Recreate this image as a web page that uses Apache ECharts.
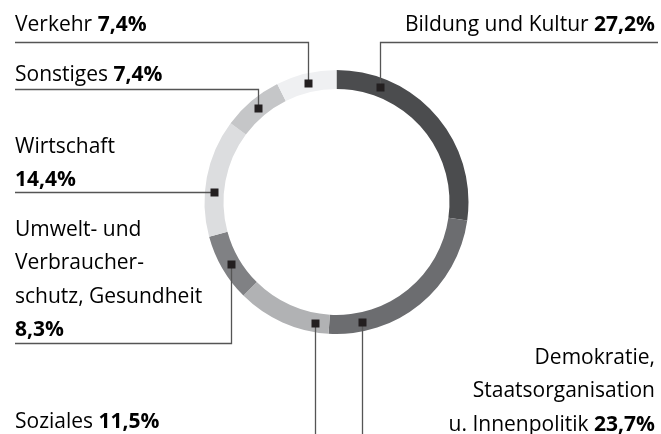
<!DOCTYPE html>
<html>
<head>
<meta charset="utf-8">
<script src="https://cdn.jsdelivr.net/npm/echarts@6/dist/echarts.min.js"></script>
<style>
  html, body { margin: 0; padding: 0; background: #fff; }
  #chart { width: 661px; height: 434px; }
</style>
</head>
<body>
<div id="chart"></div>
<script>
  // Anteile nach Themenbereich (im Uhrzeigersinn ab 12 Uhr)
  const categories = ['Bildung und Kultur', 'Demokratie, Staatsorganisation u. Innenpolitik', 'Soziales',
    'Umwelt- und Verbraucherschutz, Gesundheit', 'Wirtschaft', 'Sonstiges', 'Verkehr'];
  const shares = [27.2, 23.7, 11.5, 8.3, 14.4, 7.4, 7.4];

  // Beschriftung: Zeilen (letzte Zeile bekommt den Wert fett angehängt)
  const labelLines = [
    ['Bildung und Kultur '],
    ['Demokratie,', 'Staatsorganisation', 'u. Innenpolitik '],
    ['Soziales '],
    ['Umwelt- und', 'Verbraucher-', 'schutz, Gesundheit', ''],
    ['Wirtschaft', ''],
    ['Sonstiges '],
    ['Verkehr ']
  ];
  const colors = ['#4b4c4e', '#6c6d70', '#b1b2b4', '#808184', '#dcdddf', '#c5c6c8', '#eff0f2'];

  // Lage der Marker im Segment (0 = Anfang, 1 = Ende) und Führung der Linien
  const markerAt = [0.21, 0.82, 0.16, 0.5, 0.38, 0.5, 0.5];
  const leaderY = [42, 434, 434, 343, null, 89, 42];
  const leaderX = [658, null, null, 15, 15, 15, 15];
  const textX = [655, 655, 15, 15, 15, 15, 15];
  const textAlign = ['right', 'right', 'left', 'left', 'left', 'left', 'left'];
  const textTop = [25, 358, 422, 230, 147, 75, 25];

  const cx = 336.5, cy = 202, r0 = 113, r1 = 132;
  const lineH = 33.5;
  const fmt = v => v.toFixed(1).replace('.', ',') + '%';

  const chart = echarts.init(document.getElementById('chart'));
  const total = shares.reduce((a, b) => a + b, 0);

  const graphics = [];
  let cum = 0;
  shares.forEach((v, i) => {
    const theta = (cum + markerAt[i] * v) / total * 2 * Math.PI;
    cum += v;
    const rm = (r0 + r1) / 2;
    const mx = Math.round(cx + rm * Math.sin(theta)) + 0.5;
    const my = Math.round(cy - rm * Math.cos(theta)) + 0.5;

    let pts;
    if (leaderY[i] === null) pts = [[mx, my], [leaderX[i], my]];
    else if (leaderX[i] === null) pts = [[mx, my], [mx, leaderY[i]]];
    else pts = [[mx, my], [mx, leaderY[i] + 0.5], [leaderX[i], leaderY[i] + 0.5]];

    graphics.push({
      type: 'polyline', z: 10,
      shape: { points: pts },
      style: { stroke: '#555', lineWidth: 1.3, fill: null }
    });
    graphics.push({
      type: 'rect', z: 11,
      shape: { x: mx - 4, y: my - 4, width: 8, height: 8 },
      style: { fill: '#231f20' }
    });

    const lines = labelLines[i].slice();
    const last = lines.length - 1;
    const rows = lines.map((t, k) => k === last
      ? (t ? '{n|' + t + '}' : '') + '{b|' + fmt(v) + '}'
      : '{n|' + t + '}');
    graphics.push({
      type: 'text', z: 12,
      x: textX[i], y: textTop[i] - lineH / 2,
      style: {
        text: rows.join('\n'),
        align: textAlign[i],
        verticalAlign: 'top',
        rich: {
          n: { fontFamily: 'Open Sans', fontSize: 21, color: '#231f20', lineHeight: lineH },
          b: { fontFamily: 'Open Sans', fontSize: 21, fontWeight: 'bold', color: '#231f20', lineHeight: lineH }
        }
      }
    });
  });

  chart.setOption({
    animation: false,
    series: [{
      type: 'pie',
      center: [cx, cy],
      radius: [r0, r1],
      startAngle: 90,
      clockwise: true,
      silent: true,
      label: { show: false },
      labelLine: { show: false },
      data: categories.map((c, i) => ({ name: c, value: shares[i], itemStyle: { color: colors[i] } }))
    }],
    graphic: graphics
  });
</script>
</body>
</html>
